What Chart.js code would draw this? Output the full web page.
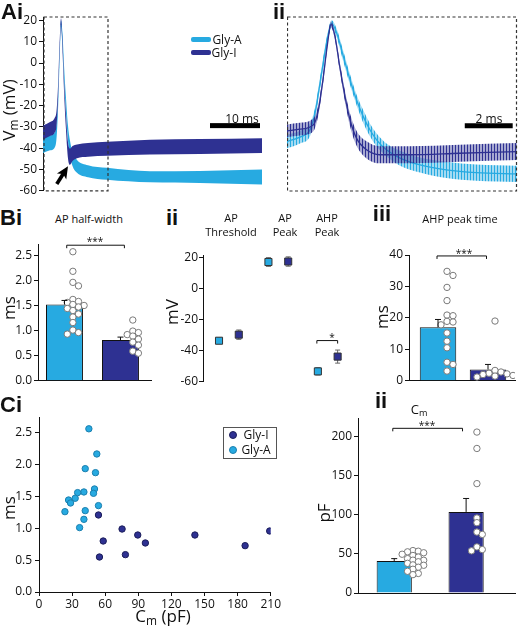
<!DOCTYPE html>
<html>
<head>
<meta charset="utf-8">
<script src="https://cdn.jsdelivr.net/npm/chart.js@4.4.1/dist/chart.umd.min.js"></script>
<style>
  body { margin: 0; background: #fff; }
  #fig { position: relative; width: 520px; height: 627px; overflow: hidden; font-family: 'Open Sans', sans-serif; color: #111; }
  #fig canvas { position: absolute; }
  .t { position: absolute; transform: translate(-50%, -50%); white-space: nowrap; line-height: 1.25; text-align: center; }
  .rot { transform: translate(-50%, -50%) rotate(-90deg); }
  .pl { font-family: 'Liberation Sans', Arial, sans-serif; font-weight: bold; }
  sub { font-size: 70%; vertical-align: -0.2em; line-height: 0; }
  .sw { position: absolute; }
  .lgbox { position: absolute; border: 1px solid #555; background: #fff; }
  .dot { position: absolute; width: 6px; height: 6px; border-radius: 50%; }
</style>
</head>
<body>
<div id="fig">
  <canvas id="ai" width="262" height="200" style="left:0;top:0"></canvas>
  <canvas id="aii" width="231" height="200" style="left:287px;top:0"></canvas>
  <canvas id="bi" width="160" height="155" style="left:0;top:235px"></canvas>
  <canvas id="bii" width="180" height="155" style="left:175px;top:235px"></canvas>
  <canvas id="biii" width="170" height="155" style="left:350px;top:235px"></canvas>
  <canvas id="ci" width="282" height="222" style="left:0;top:405px"></canvas>
  <canvas id="cii" width="220" height="222" style="left:300px;top:405px"></canvas>
</div>
<script>
// ---- Ai: full trace, mean +/- SEM (time in ms, Vm in mV)
const aiTime = [0, 1.4, 2.3, 2.7, 3.0, 3.3, 3.6, 3.9, 4.2, 4.6, 5.0, 5.4, 5.9, 6.8, 9.0, 12.8, 21.4, 31.4, 43.8]
const aiGlyIMean = [-32.7, -31.0, -29.4, -26, -14, 6, 19.5, 8, -10, -28, -41, -44, -42.5, -41.5, -40.8, -40.3, -39.5, -39.2, -38.8]
const aiGlyISem = [3.3, 3.3, 3.5, 3.5, 3, 2.5, 1.5, 2.5, 3, 3.5, 3.8, 3.8, 3.5, 3.2, 3.2, 3.3, 3.5, 3.5, 3.5]
const aiGlyAMean = [-38.8, -37.5, -36.4, -32, -19, 2, 18.5, 11, -4, -20, -33, -40, -45, -48.5, -50.8, -52, -53.4, -53.5, -53.5]
const aiGlyASem = [3.5, 3.5, 3.5, 3.5, 3, 2.5, 1.5, 2.5, 3, 3.5, 3.5, 3.5, 3.3, 3, 2.8, 2.8, 2.6, 2.8, 3.5]

// ---- Aii: zoom on the spike
const aiiGlyITime = [0, 0.54, 1.1, 1.31, 1.52, 1.66, 1.84, 2.0, 2.2, 2.42, 2.63, 2.9, 3.32, 3.87, 5.1, 7.2, 9.6]
const aiiGlyIMean = [-31.8, -31, -29, -21.9, -6.2, 6.4, 18.1, 12.6, -1.5, -15.6, -26.6, -35.2, -40.7, -43, -43, -42.3, -41.5]
const aiiGlyISem = [3, 3, 3, 2.5, 2, 1.5, 1.5, 1.5, 2, 2.5, 3, 3.5, 4, 4, 4, 4, 4]
const aiiGlyATime = [0, 0.54, 0.96, 1.17, 1.38, 1.58, 1.72, 1.86, 2.07, 2.35, 2.63, 2.9, 3.18, 3.46, 3.74, 4.15, 4.72, 5.55, 6.65, 7.9, 9.6]
const aiiGlyAMean = [-36.8, -34.7, -31.3, -23.5, -9.3, 4.8, 13.4, 18.6, 14.2, 3.2, -7.8, -17.2, -25, -31.3, -36, -40.7, -44.6, -47.8, -50.1, -51.4, -52]
const aiiGlyASem = [3.2, 3, 3, 2.5, 2.5, 2.5, 2, 1.5, 2, 2.5, 2.5, 2.5, 3, 3, 3, 3, 3.5, 3.5, 3.8, 3.8, 3.8]

// ---- Bi: AP half-width (ms)
const halfWidthMean = [1.52, 0.81]
const halfWidthSem = [0.08, 0.06]
const halfWidthGlyA = [2.57, 2.18, 1.96, 1.89, 1.62, 1.58, 1.56, 1.52, 1.50, 1.47, 1.44, 1.40, 1.33, 1.27, 1.16, 1.01, 0.96, 0.93]
const halfWidthGlyI = [1.21, 0.99, 0.96, 0.92, 0.89, 0.83, 0.77, 0.71, 0.59, 0.55]

// ---- Bii: AP parameters (mV)
const apParams = ['AP Threshold', 'AP Peak', 'AHP Peak']
const apGlyAMean = [-33.6, 17.0, -53.3]
const apGlyASem = [1.8, 2.8, 2.3]
const apGlyIMean = [-29.7, 17.3, -43.8]
const apGlyISem = [3.0, 3.0, 4.2]

// ---- Biii: AHP peak time (ms)
const ahpTimeMean = [17.0, 3.6]
const ahpTimeSem = [2.5, 1.6]
const ahpTimeGlyA = [34.8, 33.5, 29.7, 25.5, 20.9, 20.7, 18.9, 18.7, 17.8, 15.2, 12.6, 10.5, 5.9, 5.2, 3.1]
const ahpTimeGlyI = [19.0, 3.3, 2.8, 2.4, 2.2, 2.0, 1.7, 1.5, 1.2]

// ---- Ci: half-width vs membrane capacitance
const cmGlyA = [45.2, 52.4, 41.9, 51.2, 50.3, 49.4, 40.7, 35.0, 32.8, 26.8, 28.6, 53.9, 41.9, 23.5, 40.7, 36.8]
const hwGlyA = [2.56, 2.165, 1.935, 1.872, 1.616, 1.548, 1.569, 1.559, 1.47, 1.443, 1.396, 1.355, 1.276, 1.26, 1.14, 1.01]
const cmGlyI = [53.9, 75.3, 58.2, 89.5, 96.4, 78.3, 54.8, 141.3, 186.8, 209.1]
const hwGlyI = [1.208, 0.988, 0.80, 0.894, 0.769, 0.586, 0.549, 0.894, 0.727, 0.957]

// ---- Cii: Cm (pF)
const cmMean = [41, 103.8]
const cmSem = [3, 17.2]
const cmPtsGlyA = [54.3, 53.5, 52.7, 51.5, 49.6, 48, 46, 44, 42, 41.9, 40, 38, 36, 35.5, 33, 30.4, 27.8, 25, 23.5]
const cmPtsGlyI = [206, 185, 140, 96, 90, 78, 75, 59, 55.6, 54]

const cyan = '#27aae1'
const navy = '#2e3192'
const ink = '#111'
const fig = document.getElementById('fig')

Chart.defaults.font.family = "'Open Sans', sans-serif"
Chart.defaults.font.size = 12
Chart.defaults.color = ink

// ---------- helpers
function txt(s, x, y, size, cls) {
  const d = document.createElement('div')
  d.className = 't ' + (cls || '')
  d.style.left = x + 'px'
  d.style.top = y + 'px'
  d.style.fontSize = size + 'px'
  d.innerHTML = s
  fig.appendChild(d)
}

function band(times, mean, sem, sign) {
  return times.map((t, i) => ({ x: t, y: mean[i] + sign * sem[i] }))
}

function line(times, vals) {
  return times.map((t, i) => ({ x: t, y: vals[i] }))
}

// simple beeswarm so the dots do not sit on top of each other
function swarm(values, center, dx, dy) {
  const placed = []
  const sorted = values.slice().sort((a, b) => b - a)
  for (const v of sorted) {
    let ok = false
    for (const k of [0, 1, -1, 2, -2, 3, -3]) {
      const x = center + k * dx
      if (!placed.some(p => Math.abs(p.y - v) < dy && Math.abs(p.x - x) < dx * 0.9)) {
        placed.push({ x, y: v })
        ok = true
        break
      }
    }
    if (!ok) placed.push({ x: center, y: v })
  }
  return placed
}

function overlay(before, after) {
  return {
    id: 'overlay',
    beforeDatasetsDraw(c) {
      if (!before) return
      c.ctx.save(); before(c.ctx, c.scales.x, c.scales.y, c.chartArea); c.ctx.restore()
    },
    afterDatasetsDraw(c) {
      if (!after) return
      c.ctx.save(); after(c.ctx, c.scales.x, c.scales.y, c.chartArea); c.ctx.restore()
    }
  }
}

function vbar(ctx, px, y1, y2, cap) {
  ctx.beginPath()
  ctx.moveTo(px, y1); ctx.lineTo(px, y2)
  ctx.moveTo(px - cap, y2); ctx.lineTo(px + cap, y2)
  ctx.stroke()
}

function bracket(ctx, x1, x2, y, drop) {
  ctx.beginPath()
  ctx.moveTo(x1, y + drop); ctx.lineTo(x1, y); ctx.lineTo(x2, y); ctx.lineTo(x2, y + drop)
  ctx.stroke()
}

function dashedBox(ctx, l, t, r, b) {
  ctx.strokeStyle = '#333'
  ctx.lineWidth = 1.2
  ctx.setLineDash([3, 2.5])
  ctx.strokeRect(l, t, r - l, b - t)
  ctx.setLineDash([])
}

function yAxis(min, max, step, width, extra) {
  return Object.assign({
    min, max,
    afterFit: s => { s.width = width },
    ticks: { stepSize: step, includeBounds: false, padding: 2, color: ink },
    grid: { drawOnChartArea: false, tickLength: 4, color: ink },
    border: { color: ink, width: 1 }
  }, extra || {})
}

const base = {
  responsive: false,
  animation: false,
  events: [],
  plugins: { legend: { display: false }, tooltip: { enabled: false } }
}

// ---------- Ai
new Chart('ai', {
  type: 'line',
  data: {
    datasets: [
      { data: band(aiTime, aiGlyAMean, aiGlyASem, -1), fill: false, order: 4 },
      { data: band(aiTime, aiGlyAMean, aiGlyASem, 1), fill: 0, backgroundColor: cyan, order: 3 },
      { data: band(aiTime, aiGlyIMean, aiGlyISem, -1), fill: false, order: 2 },
      { data: band(aiTime, aiGlyIMean, aiGlyISem, 1), fill: 2, backgroundColor: navy, order: 1 }
    ]
  },
  options: Object.assign({}, base, {
    layout: { padding: { top: 17, bottom: 9, left: 0, right: 0 } },
    elements: {
      point: { radius: 0 },
      line: { borderWidth: 0, borderColor: 'rgba(0,0,0,0)', cubicInterpolationMode: 'monotone' }
    },
    scales: {
      x: { type: 'linear', display: false, min: 0, max: 43.8 },
      y: yAxis(-60, 21.6, 10, 43)
    }
  }),
  plugins: [overlay(null, (ctx, x, y, a) => {
    dashedBox(ctx, x.getPixelForValue(0) + 1, a.top, x.getPixelForValue(13), a.bottom)
    // 10 ms scale bar
    ctx.fillStyle = '#000'
    ctx.fillRect(x.getPixelForValue(33.4), y.getPixelForValue(-29.4) - 2.5, x.getPixelForValue(43.4) - x.getPixelForValue(33.4), 5)
    // arrow pointing at the AHP
    ctx.translate(x.getPixelForValue(5.0), y.getPixelForValue(-48.5))
    ctx.rotate(Math.atan2(18.4, -11.6))
    ctx.beginPath()
    ctx.moveTo(0, 0); ctx.lineTo(12, -5.5); ctx.lineTo(9, 0); ctx.lineTo(12, 5.5); ctx.closePath()
    ctx.fill()
    ctx.fillRect(8, -1.8, 13, 3.6)
  })]
})

// ---------- Aii
const aiiCtx = document.getElementById('aii').getContext('2d')
function stripes(color) {
  const c = document.createElement('canvas')
  c.width = 3; c.height = 4
  const g = c.getContext('2d')
  g.fillStyle = color
  g.globalAlpha = 0.42; g.fillRect(0, 0, 3, 4)
  g.globalAlpha = 1; g.fillRect(0, 0, 1, 4)
  return aiiCtx.createPattern(c, 'repeat')
}

new Chart(aiiCtx, {
  type: 'line',
  data: {
    datasets: [
      { data: band(aiiGlyATime, aiiGlyAMean, aiiGlyASem, -1), fill: false, order: 6 },
      { data: band(aiiGlyATime, aiiGlyAMean, aiiGlyASem, 1), fill: 0, backgroundColor: stripes(cyan), order: 5 },
      { data: line(aiiGlyATime, aiiGlyAMean), fill: false, borderColor: cyan, borderWidth: 1.3, order: 4 },
      { data: band(aiiGlyITime, aiiGlyIMean, aiiGlyISem, -1), fill: false, order: 3 },
      { data: band(aiiGlyITime, aiiGlyIMean, aiiGlyISem, 1), fill: 3, backgroundColor: stripes(navy), order: 2 },
      { data: line(aiiGlyITime, aiiGlyIMean), fill: false, borderColor: navy, borderWidth: 1.3, order: 1 }
    ]
  },
  options: Object.assign({}, base, {
    layout: { padding: { top: 17, bottom: 9, left: 0, right: 1 } },
    elements: {
      point: { radius: 0 },
      line: { borderWidth: 0, borderColor: 'rgba(0,0,0,0)', cubicInterpolationMode: 'monotone' }
    },
    scales: {
      x: { type: 'linear', display: false, min: 0, max: 9.6 },
      y: { display: false, min: -60, max: 21.6 }
    }
  }),
  plugins: [overlay(null, (ctx, x, y, a) => {
    dashedBox(ctx, a.left + 0.5, a.top, a.right - 0.5, a.bottom)
    ctx.fillStyle = '#000'
    ctx.fillRect(x.getPixelForValue(7.42), y.getPixelForValue(-29.4) - 2.5, x.getPixelForValue(9.42) - x.getPixelForValue(7.42), 5)
  })]
})

// ---------- bar + dots panels (Bi, Biii, Cii)
function barPanel(id, cfg) {
  const dots = swarm(cfg.ptsA, cfg.cA, cfg.dx, cfg.dy).concat(swarm(cfg.ptsI, 1 + cfg.cI, cfg.dx, cfg.dy))
  new Chart(id, {
    type: 'bar',
    data: {
      datasets: [
        {
          type: 'scatter', data: dots, order: 0,
          pointRadius: 3.2, backgroundColor: '#fff', borderColor: '#7a7a7a', borderWidth: 1
        },
        {
          data: cfg.mean.map((v, i) => ({ x: i, y: v })), order: 1,
          backgroundColor: [cyan, navy], borderColor: ink, borderWidth: 1,
          barPercentage: cfg.barPct, categoryPercentage: 1
        }
      ]
    },
    options: Object.assign({}, base, {
      layout: { padding: cfg.pad },
      scales: {
        x: {
          type: 'linear', min: cfg.xMin, max: cfg.xMax, offset: false,
          afterFit: s => { s.height = cfg.xH },
          ticks: { display: false }, grid: { display: false, offset: false },
          border: { color: ink, width: 1 }
        },
        y: yAxis(0, cfg.yMax, cfg.step, cfg.yW, { ticks: { stepSize: cfg.step, includeBounds: false, padding: 2, color: ink, callback: cfg.fmt } })
      }
    }),
    plugins: [overlay(null, (ctx, x, y) => {
      ctx.strokeStyle = ink
      ctx.lineWidth = 1
      cfg.mean.forEach((m, i) => {
        vbar(ctx, x.getPixelForValue(i), y.getPixelForValue(m), y.getPixelForValue(m + cfg.sem[i]), 3)
      })
      bracket(ctx, x.getPixelForValue(cfg.br[0]), x.getPixelForValue(cfg.br[1]), y.getPixelForValue(cfg.br[2]), 3)
    })]
  })
}

barPanel('bi', {
  mean: halfWidthMean, sem: halfWidthSem, ptsA: halfWidthGlyA, ptsI: halfWidthGlyI,
  cA: 0.15, cI: 0.22, dx: 0.1, dy: 0.09, barPct: 0.66,
  xMin: -0.473, xMax: 1.545, xH: 7, yMax: 2.72, step: 0.5, yW: 38,
  fmt: v => v.toFixed(1),
  pad: { top: 9, bottom: 0, left: 0, right: 9 },
  br: [0.04, 1.07, 2.70]
})

barPanel('biii', {
  mean: ahpTimeMean, sem: ahpTimeSem, ptsA: ahpTimeGlyA, ptsI: ahpTimeGlyI,
  cA: 0.18, cI: 0.14, dx: 0.12, dy: 1.7, barPct: 0.73,
  xMin: -0.58, xMax: 1.54, xH: 6, yMax: 40, step: 10, yW: 59,
  fmt: v => v,
  pad: { top: 20, bottom: 0, left: 0, right: 3 },
  br: [-0.02, 0.97, 39.7]
})

barPanel('cii', {
  mean: cmMean, sem: cmSem, ptsA: cmPtsGlyA, ptsI: cmPtsGlyI,
  cA: 0.26, cI: 0.15, dx: 0.075, dy: 5.5, barPct: 0.72,
  xMin: -0.504, xMax: 1.68, xH: 10, yMax: 224, step: 50, yW: 58,
  fmt: v => v,
  pad: { top: 13, bottom: 24, left: 0, right: 5 },
  br: [-0.02, 0.95, 210.8]
})

// ---------- Bii
new Chart('bii', {
  type: 'scatter',
  data: {
    datasets: [
      { data: apGlyAMean.map((v, i) => ({ x: i - 0.2, y: v })), backgroundColor: cyan },
      { data: apGlyIMean.map((v, i) => ({ x: i + 0.2, y: v })), backgroundColor: navy }
    ]
  },
  options: Object.assign({}, base, {
    layout: { padding: { top: 20, bottom: 7, left: 0, right: 0 } },
    elements: { point: { pointStyle: 'rect', radius: 5, borderColor: '#333', borderWidth: 1 } },
    scales: {
      x: { type: 'linear', display: false, min: -0.524, max: 2.43 },
      y: yAxis(-60, 21.5, 20, 28, { ticks: { stepSize: 20, includeBounds: false, padding: 1, color: ink } })
    }
  }),
  plugins: [overlay((ctx, x, y) => {
    ctx.strokeStyle = '#666'
    ctx.lineWidth = 1
    apParams.forEach((p, i) => {
      [[i - 0.2, apGlyAMean[i], apGlyASem[i]], [i + 0.2, apGlyIMean[i], apGlyISem[i]]].forEach(([xi, m, s]) => {
        const px = x.getPixelForValue(xi)
        vbar(ctx, px, y.getPixelForValue(m), y.getPixelForValue(m + s), 2.5)
        vbar(ctx, px, y.getPixelForValue(m), y.getPixelForValue(m - s), 2.5)
      })
    })
  }, (ctx, x, y) => {
    ctx.strokeStyle = ink
    ctx.lineWidth = 1
    bracket(ctx, x.getPixelForValue(1.78), x.getPixelForValue(2.2), y.getPixelForValue(-33.5), 3)
  })]
})

// ---------- Ci
new Chart('ci', {
  type: 'scatter',
  data: {
    datasets: [
      { label: 'Gly-I', data: line(cmGlyI, hwGlyI), backgroundColor: navy, borderColor: '#1c1e5a' },
      { label: 'Gly-A', data: line(cmGlyA, hwGlyA), backgroundColor: cyan, borderColor: '#1b7fae' }
    ]
  },
  options: Object.assign({}, base, {
    layout: { padding: { top: 12, bottom: 15, left: 0, right: 10 } },
    elements: { point: { radius: 3.2, borderWidth: 1 } },
    scales: {
      x: {
        type: 'linear', min: 0, max: 210,
        afterFit: s => { s.height = 20 },
        ticks: { stepSize: 30, padding: 1, color: ink },
        grid: { drawOnChartArea: false, tickLength: 4, color: ink },
        border: { color: ink, width: 1 }
      },
      y: yAxis(0, 2.745, 0.5, 39, { ticks: { stepSize: 0.5, includeBounds: false, padding: 3, color: ink, callback: v => v.toFixed(1) } })
    }
  })
})

// ---------- text
txt('Ai', 12, 12, 22, 'pl')
txt('ii', 279, 12, 22, 'pl')
txt('Bi', 11, 218, 22, 'pl')
txt('ii', 172, 218, 22, 'pl')
txt('iii', 382, 214, 22, 'pl')
txt('Ci', 11, 405, 22, 'pl')
txt('ii', 381, 401, 22, 'pl')

txt('V<sub>m</sub> (mV)', 9, 110, 17, 'rot')
txt('10 ms', 242, 118, 12)
txt('2 ms', 489, 118, 12)

txt('AP half-width', 89, 219, 11)
txt('ms', 9, 308, 17, 'rot')
txt('***', 95, 241, 10)

txt('AP<br>Threshold', 231, 225, 11)
txt('AP<br>Peak', 285, 225, 11)
txt('AHP<br>Peak', 327, 225, 11)
txt('mV', 172, 312, 17, 'rot')
txt('*', 332, 337, 10)

txt('AHP peak time', 460, 219, 11)
txt('ms', 382, 317, 17, 'rot')
txt('***', 464, 253, 10)

txt('ms', 9, 508, 17, 'rot')
txt('C<sub>m</sub> (pF)', 163, 616, 17)

txt('C<sub>m</sub>', 419, 409, 13)
txt('pF', 324, 513, 17, 'rot')
txt('***', 427, 425, 10)

// Ai legend
function swatch(x, y, w, h, color) {
  const d = document.createElement('div')
  d.className = 'sw'
  Object.assign(d.style, { left: x + 'px', top: y + 'px', width: w + 'px', height: h + 'px', background: color, borderRadius: '2px' })
  fig.appendChild(d)
}
swatch(191, 36.5, 20, 5, cyan)
swatch(191, 49.5, 20, 5, navy)
txt('Gly-A', 227, 39, 12)
txt('Gly-I', 224, 52, 12)

// Ci legend
const box = document.createElement('div')
box.className = 'lgbox'
Object.assign(box.style, { left: '223px', top: '427px', width: '52px', height: '30px' })
fig.appendChild(box)
;[[navy, '#1c1e5a', 434, 'Gly-I'], [cyan, '#1b7fae', 449, 'Gly-A']].forEach(([c, b, y, s]) => {
  const d = document.createElement('div')
  d.className = 'dot'
  Object.assign(d.style, { left: '229px', top: (y - 3) + 'px', background: c, border: '1px solid ' + b })
  fig.appendChild(d)
  txt(s, 256, y, 12)
})
</script>
</body>
</html>
